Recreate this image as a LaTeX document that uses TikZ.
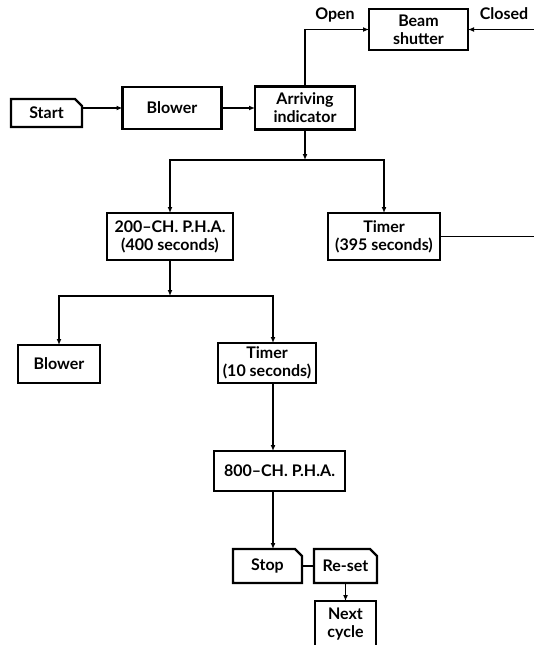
\documentclass[tikz,border=0pt]{standalone}
\usepackage{fontspec}
\setmainfont{Lato}
\usetikzlibrary{arrows.meta}

\tikzset{
  box/.style={draw, line width=2.4pt, align=center, inner sep=0pt, outer sep=0pt,
    font=\bfseries\fontsize{16}{18}\selectfont},
  card/.style={box, draw=none},
  tag/.style={font=\bfseries\fontsize{16}{18}\selectfont},
  link/.style={line width=1.8pt},
  flow/.style={link, -{Latex[length=6pt,width=5pt]}},
}
\newcommand{\cardframe}[1]{%
  \draw[line width=2.4pt] (#1.north west) -- ([xshift=-7pt]#1.north east)
    -- ([yshift=-7pt]#1.north east) -- (#1.south east) -- (#1.south west) -- cycle;}

\begin{document}
\begin{tikzpicture}[x=1pt,y=-1pt]
  \useasboundingbox (0,0) rectangle (534,645);

  \node[card, minimum width=71pt, minimum height=28pt] (start) at (46.5,113) {Start};
  \node[box, minimum width=99pt, minimum height=42pt] (blower) at (172,108) {Blower};
  \node[box, minimum width=100pt, minimum height=43pt] (arriving) at (305,108) {Arriving\\indicator};
  \node[box, minimum width=99pt, minimum height=41pt] (shutter) at (418.5,29.5) {Beam\\shutter};
  \node[tag] (open) at (335,15) {Open};
  \node[tag] (shut) at (504,14) {Closed};

  \node[box, minimum width=126pt, minimum height=47pt] (pha200) at (170,236.5) {200--CH. P.H.A.\\(400 seconds)};
  \node[box, minimum width=112pt, minimum height=47pt] (timera) at (384,236.5) {Timer\\(395 seconds)};
  \node[box, minimum width=82pt, minimum height=38pt] (blowerb) at (59,364) {Blower};
  \node[box, minimum width=98pt, minimum height=40pt] (timerb) at (267,363) {Timer\\(10 seconds)};
  \node[box, minimum width=131pt, minimum height=40pt] (pha800) at (279.5,471) {800--CH. P.H.A.};
  \node[card, minimum width=69pt, minimum height=34pt] (stop) at (267.5,566) {Stop};
  \node[card, minimum width=63pt, minimum height=34pt] (reset) at (345.5,566) {Re-set};
  \node[box, minimum width=61pt, minimum height=47pt] (next) at (345.5,624.5) {Next\\cycle};

  \cardframe{start}
  \cardframe{stop}
  \cardframe{reset}

  \coordinate (bar1) at (305,160);
  \coordinate (bar2) at (170,296);
  \coordinate (col) at (273,0);
  \coordinate (tend) at (534,236.5);
  \coordinate (closed) at (534,29.5);

  \draw[flow] (start.east |- blower.west) -- (blower.west);
  \draw[flow] (blower) -- (arriving);
  \draw[flow] (arriving) |- (shutter);
  \draw[flow] (closed) -- (shutter);
  \draw[flow] (arriving) -- (bar1);
  \draw[flow] (bar1) -| (pha200);
  \draw[flow] (bar1) -| (timera);
  \draw[link] (timera) -- (tend);
  \draw[flow] (pha200) -- (bar2);
  \draw[flow] (bar2) -| (blowerb);
  \draw[flow] (bar2) -| (timerb.north -| col);
  \draw[flow] (timerb.south -| col) -- (pha800.north -| col);
  \draw[flow] (pha800.south -| col) -- (stop.north -| col);
  \draw[link] (stop) -- (reset);
  \draw[flow] (reset) -- (next);
\end{tikzpicture}
\end{document}
